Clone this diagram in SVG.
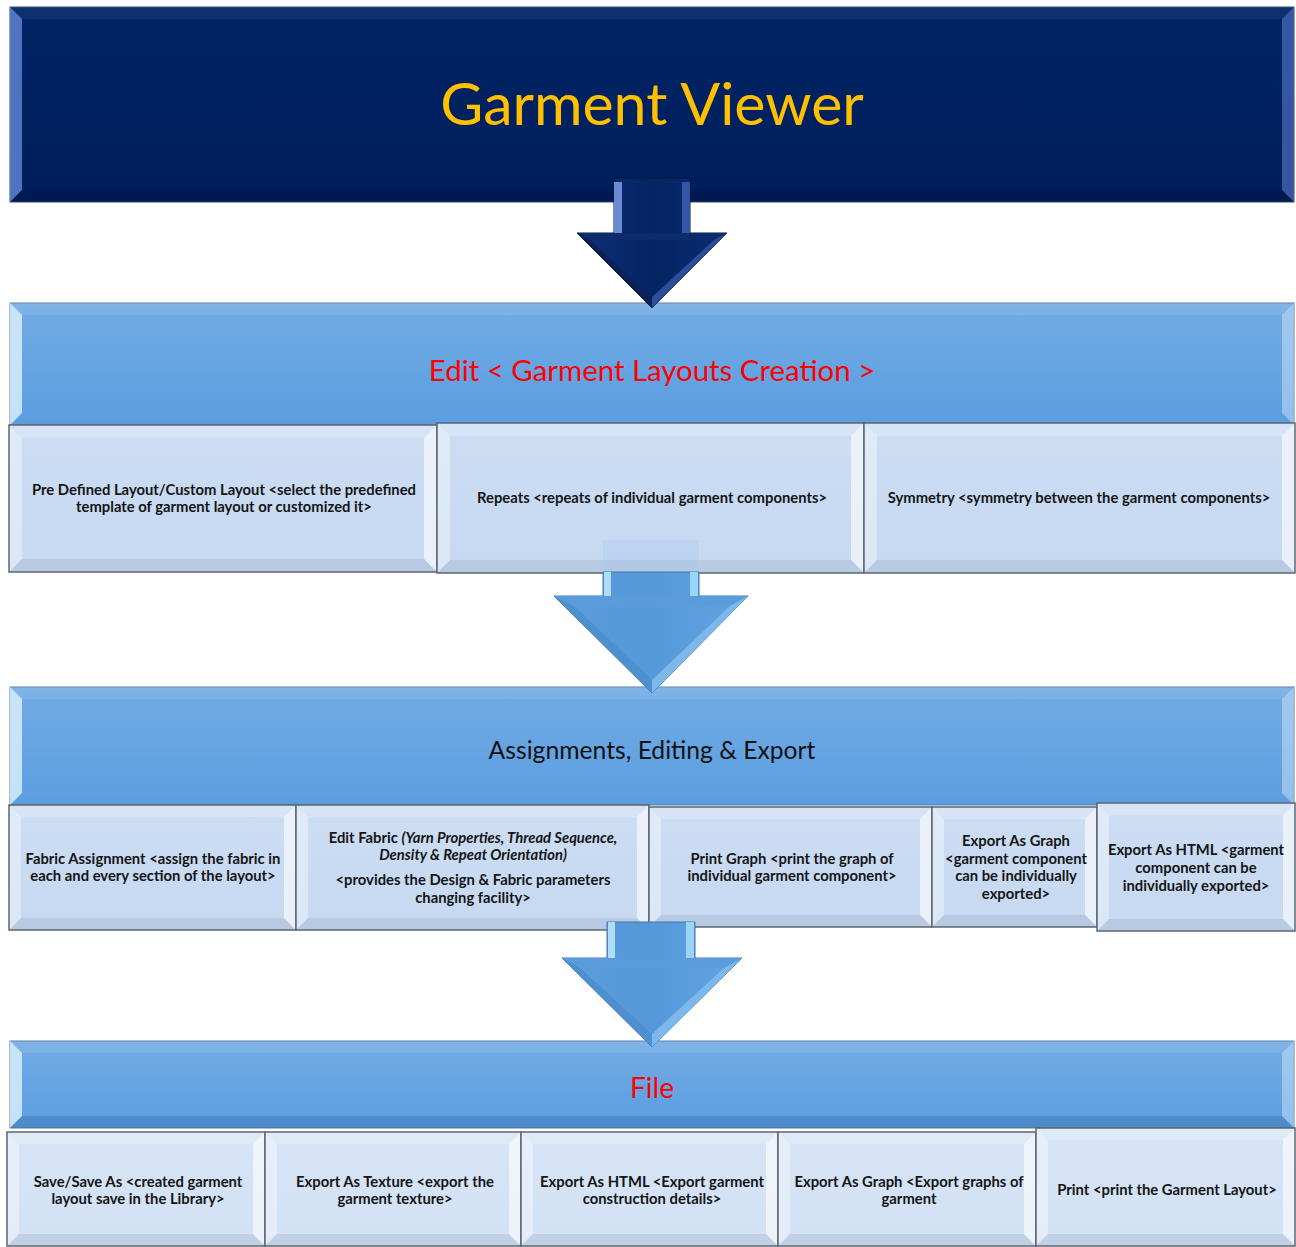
<svg xmlns="http://www.w3.org/2000/svg" width="1296" height="1247" viewBox="0 0 1296 1247">
<defs>
<linearGradient id="gHead" x1="0" y1="0" x2="0" y2="1"><stop offset="0" stop-color="#002466"/><stop offset="1" stop-color="#001E5A"/></linearGradient>
<linearGradient id="gBand" x1="0" y1="0" x2="0" y2="1"><stop offset="0" stop-color="#72ABE5"/><stop offset="1" stop-color="#5B9EE0"/></linearGradient>
<linearGradient id="gBox" x1="0" y1="0" x2="0" y2="1"><stop offset="0" stop-color="#CCDDF3"/><stop offset="1" stop-color="#C6D9F1"/></linearGradient>
<linearGradient id="gBox3" x1="0" y1="0" x2="0" y2="1"><stop offset="0" stop-color="#D6E4F5"/><stop offset="1" stop-color="#D2E1F4"/></linearGradient>
<linearGradient id="gArD" x1="0" y1="0" x2="1" y2="0"><stop offset="0" stop-color="#0E3078"/><stop offset="0.5" stop-color="#042463"/><stop offset="1" stop-color="#0A2C70"/></linearGradient>
<linearGradient id="gArL" x1="0" y1="0" x2="1" y2="0"><stop offset="0" stop-color="#5B9CDC"/><stop offset="0.5" stop-color="#5599DA"/><stop offset="1" stop-color="#63A4E0"/></linearGradient>
</defs>
<style>
.bd{stroke:#5E6670;stroke-width:1.5}
.hdr{fill:url(#gHead);stroke:#3A4A70;stroke-width:1}
.band{fill:url(#gBand);stroke:#5A7FA8;stroke-width:1}
.box{fill:url(#gBox)}
.box3{fill:url(#gBox3)}
.ht{fill:#fff;opacity:.06}
.hl{fill:#6B8FE0;opacity:.75}
.hr{fill:#5A7CCB;opacity:.6}
.hb{fill:#000;opacity:.12}
.nt{fill:#fff;opacity:.10}
.nl{fill:#E6F8FF;opacity:.75}
.nr{fill:#fff;opacity:.35}
.nb{fill:#1E4E86;opacity:.25}
.xt{fill:#fff;opacity:.22}
.xl{fill:#fff;opacity:.38}
.xr{fill:#fff;opacity:.6}
.xb{fill:#7F93AC;opacity:.2}
.t{font-family:Lato,"Open Sans","Liberation Sans",sans-serif;font-weight:bold;font-size:14.8px;fill:#151515;text-anchor:middle}
.it{font-style:italic}
.ttl{font-family:Lato,"Open Sans","Liberation Sans",sans-serif;text-anchor:middle}
</style>

<g id="header">
<rect class="hdr" x="10" y="7" width="1284" height="195"/>
<polygon class="ht" points="10,7 1294,7 1282,19 22,19"/>
<polygon class="hl" points="10,7 22,19 22,190 10,202"/>
<polygon class="hr" points="1294,7 1294,202 1282,190 1282,19"/>
<polygon class="hb" points="10,202 22,190 1282,190 1294,202"/>
<text class="ttl" x="652" y="125" font-size="59" fill="#FFC000">Garment Viewer</text>
</g>

<g id="band-edit">
<rect class="band" x="10" y="303" width="1284" height="122"/>
<polygon class="nt" points="10,303 1294,303 1282,315 22,315"/>
<polygon class="nl" points="10,303 22,315 22,413 10,425"/>
<polygon class="nr" points="1294,303 1294,425 1282,413 1282,315"/>
<text class="ttl" x="652" y="381" font-size="29.4" fill="#FF0000">Edit &lt; Garment Layouts Creation &gt;</text>
</g>

<g id="band-assign">
<rect class="band" x="10" y="687" width="1284" height="118"/>
<polygon class="nt" points="10,687 1294,687 1282,699 22,699"/>
<polygon class="nl" points="10,687 22,699 22,793 10,805"/>
<polygon class="nr" points="1294,687 1294,805 1282,793 1282,699"/>
<text class="ttl" x="652" y="759" font-size="24.7" fill="#111">Assignments, Editing &amp; Export</text>
</g>

<g id="band-file">
<rect class="band" x="10" y="1041" width="1284" height="87"/>
<polygon class="nt" points="10,1041 1294,1041 1282,1053 22,1053"/>
<polygon class="nl" points="10,1041 22,1053 22,1116 10,1128"/>
<polygon class="nr" points="1294,1041 1294,1128 1282,1116 1282,1053"/>
<polygon class="nb" points="10,1128 22,1116 1282,1116 1294,1128"/>
<text class="ttl" x="652" y="1098" font-size="28" fill="#FF0000">File</text>
</g>

<!-- Row 1 -->
<g id="r1b1">
<rect class="box" x="9" y="425" width="428" height="147"/>
<polygon class="xt" points="9,425 437,425 424,438 22,438"/>
<polygon class="xl" points="9,425 22,438 22,559 9,572"/>
<polygon class="xr" points="437,425 437,572 424,559 424,438"/>
<polygon class="xb" points="9,572 22,559 424,559 437,572"/>
<rect x="9" y="425" width="428" height="147" fill="none" class="bd"/>
<text class="t" x="224" y="495">Pre Defined Layout/Custom Layout &lt;select the predefined</text>
<text class="t" x="224" y="512">template of garment layout or customized it&gt;</text>
</g>
<g id="r1b2">
<rect class="box" x="437" y="423" width="427" height="150"/>
<polygon class="xt" points="437,423 864,423 851,436 450,436"/>
<polygon class="xl" points="437,423 450,436 450,560 437,573"/>
<polygon class="xr" points="864,423 864,573 851,560 851,436"/>
<polygon class="xb" points="437,573 450,560 851,560 864,573"/>
<rect x="437" y="423" width="427" height="150" fill="none" class="bd"/>
<text class="t" x="652" y="503">Repeats &lt;repeats of individual garment components&gt;</text>
</g>
<g id="r1b3">
<rect class="box" x="864" y="423" width="431" height="150"/>
<polygon class="xt" points="864,423 1295,423 1282,436 877,436"/>
<polygon class="xl" points="864,423 877,436 877,560 864,573"/>
<polygon class="xr" points="1295,423 1295,573 1282,560 1282,436"/>
<polygon class="xb" points="864,573 877,560 1282,560 1295,573"/>
<rect x="864" y="423" width="431" height="150" fill="none" class="bd"/>
<text class="t" x="1079" y="503">Symmetry &lt;symmetry between the garment components&gt;</text>
</g>

<!-- Row 2 -->
<g id="r2b1">
<rect class="box" x="9" y="805" width="287" height="125"/>
<polygon class="xt" points="9,805 296,805 284,817 21,817"/>
<polygon class="xl" points="9,805 21,817 21,918 9,930"/>
<polygon class="xr" points="296,805 296,930 284,918 284,817"/>
<polygon class="xb" points="9,930 21,918 284,918 296,930"/>
<rect x="9" y="805" width="287" height="125" fill="none" class="bd"/>
<text class="t" x="153" y="864">Fabric Assignment &lt;assign the fabric in</text>
<text class="t" x="153" y="881">each and every section of the layout&gt;</text>
</g>
<g id="r2b2">
<rect class="box" x="296" y="805" width="353" height="125"/>
<polygon class="xt" points="296,805 649,805 637,817 308,817"/>
<polygon class="xl" points="296,805 308,817 308,918 296,930"/>
<polygon class="xr" points="649,805 649,930 637,918 637,817"/>
<polygon class="xb" points="296,930 308,918 637,918 649,930"/>
<rect x="296" y="805" width="353" height="125" fill="none" class="bd"/>
<text class="t" x="473" y="843">Edit Fabric <tspan class="it">(Yarn Properties, Thread Sequence,</tspan></text>
<text class="t it" x="473" y="860">Density &amp; Repeat Orientation)</text>
<text class="t" x="473" y="885">&lt;provides the Design &amp; Fabric parameters</text>
<text class="t" x="473" y="903">changing facility&gt;</text>
</g>
<g id="r2b3">
<rect class="box" x="649" y="807" width="283" height="120"/>
<polygon class="xt" points="649,807 932,807 920,819 661,819"/>
<polygon class="xl" points="649,807 661,819 661,915 649,927"/>
<polygon class="xr" points="932,807 932,927 920,915 920,819"/>
<polygon class="xb" points="649,927 661,915 920,915 932,927"/>
<rect x="649" y="807" width="283" height="120" fill="none" class="bd"/>
<text class="t" x="792" y="864">Print Graph &lt;print the graph of</text>
<text class="t" x="792" y="881">individual garment component&gt;</text>
</g>
<g id="r2b4">
<rect class="box" x="932" y="807" width="165" height="120"/>
<polygon class="xt" points="932,807 1097,807 1085,819 944,819"/>
<polygon class="xl" points="932,807 944,819 944,915 932,927"/>
<polygon class="xr" points="1097,807 1097,927 1085,915 1085,819"/>
<polygon class="xb" points="932,927 944,915 1085,915 1097,927"/>
<rect x="932" y="807" width="165" height="120" fill="none" class="bd"/>
<text class="t" x="1016" y="846">Export As Graph</text>
<text class="t" x="1016" y="864">&lt;garment component</text>
<text class="t" x="1016" y="881">can be individually</text>
<text class="t" x="1016" y="899">exported&gt;</text>
</g>
<g id="r2b5">
<rect class="box" x="1097" y="803" width="198" height="128"/>
<polygon class="xt" points="1097,803 1295,803 1283,815 1109,815"/>
<polygon class="xl" points="1097,803 1109,815 1109,919 1097,931"/>
<polygon class="xr" points="1295,803 1295,931 1283,919 1283,815"/>
<polygon class="xb" points="1097,931 1109,919 1283,919 1295,931"/>
<rect x="1097" y="803" width="198" height="128" fill="none" class="bd"/>
<text class="t" x="1196" y="855">Export As HTML &lt;garment</text>
<text class="t" x="1196" y="873">component can be</text>
<text class="t" x="1196" y="891">individually exported&gt;</text>
</g>

<!-- Row 3 -->
<g id="r3b1">
<rect class="box3" x="7" y="1132" width="258" height="114"/>
<polygon class="xt" points="7,1132 265,1132 253,1144 19,1144"/>
<polygon class="xl" points="7,1132 19,1144 19,1234 7,1246"/>
<polygon class="xr" points="265,1132 265,1246 253,1234 253,1144"/>
<polygon class="xb" points="7,1246 19,1234 253,1234 265,1246"/>
<rect x="7" y="1132" width="258" height="114" fill="none" class="bd"/>
<text class="t" x="138" y="1187">Save/Save As &lt;created garment</text>
<text class="t" x="138" y="1204">layout save in the Library&gt;</text>
</g>
<g id="r3b2">
<rect class="box3" x="265" y="1132" width="256" height="114"/>
<polygon class="xt" points="265,1132 521,1132 509,1144 277,1144"/>
<polygon class="xl" points="265,1132 277,1144 277,1234 265,1246"/>
<polygon class="xr" points="521,1132 521,1246 509,1234 509,1144"/>
<polygon class="xb" points="265,1246 277,1234 509,1234 521,1246"/>
<rect x="265" y="1132" width="256" height="114" fill="none" class="bd"/>
<text class="t" x="395" y="1187">Export As Texture &lt;export the</text>
<text class="t" x="395" y="1204">garment texture&gt;</text>
</g>
<g id="r3b3">
<rect class="box3" x="521" y="1132" width="257" height="114"/>
<polygon class="xt" points="521,1132 778,1132 766,1144 533,1144"/>
<polygon class="xl" points="521,1132 533,1144 533,1234 521,1246"/>
<polygon class="xr" points="778,1132 778,1246 766,1234 766,1144"/>
<polygon class="xb" points="521,1246 533,1234 766,1234 778,1246"/>
<rect x="521" y="1132" width="257" height="114" fill="none" class="bd"/>
<text class="t" x="652" y="1187">Export As HTML &lt;Export garment</text>
<text class="t" x="652" y="1204">construction details&gt;</text>
</g>
<g id="r3b4">
<rect class="box3" x="778" y="1132" width="258" height="114"/>
<polygon class="xt" points="778,1132 1036,1132 1024,1144 790,1144"/>
<polygon class="xl" points="778,1132 790,1144 790,1234 778,1246"/>
<polygon class="xr" points="1036,1132 1036,1246 1024,1234 1024,1144"/>
<polygon class="xb" points="778,1246 790,1234 1024,1234 1036,1246"/>
<rect x="778" y="1132" width="258" height="114" fill="none" class="bd"/>
<text class="t" x="909" y="1187">Export As Graph &lt;Export graphs of</text>
<text class="t" x="909" y="1204">garment</text>
</g>
<g id="r3b5">
<rect class="box3" x="1036" y="1128" width="259" height="118"/>
<polygon class="xt" points="1036,1128 1295,1128 1283,1140 1048,1140"/>
<polygon class="xl" points="1036,1128 1048,1140 1048,1234 1036,1246"/>
<polygon class="xr" points="1295,1128 1295,1246 1283,1234 1283,1140"/>
<polygon class="xb" points="1036,1246 1048,1234 1283,1234 1295,1246"/>
<rect x="1036" y="1128" width="259" height="118" fill="none" class="bd"/>
<text class="t" x="1167" y="1195">Print &lt;print the Garment Layout&gt;</text>
</g>

<g id="connectors">
<!-- Arrow 1 -->
<polygon points="614,178 690,178 690,233 727,233 652,308 577,233 614,233" fill="url(#gArD)" stroke="#001640" stroke-width="1"/>
<polygon points="577,233 727,233 714,240 590,240" fill="#0B2B6C"/>
<polygon points="577,233 590,240 652,297 652,308" fill="#0A2258"/>
<polygon points="727,233 714,240 652,297 652,308" fill="#2A4E9A"/>
<rect x="614" y="182" width="8" height="51" fill="#7C9EE8" opacity="0.85"/>
<rect x="682" y="182" width="8" height="51" fill="#3E62B5" opacity="0.8"/>
<!-- Arrow 2 -->
<rect x="603" y="540" width="96" height="32" fill="#A9C8EA" opacity="0.35"/>
<polygon points="603,572 699,572 699,596 748,596 652,693 554,596 603,596" fill="url(#gArL)" stroke="#3F77B0" stroke-width="1"/>
<polygon points="554,596 748,596 730,606 574,606" fill="#5A9BDB"/>
<polygon points="554,596 574,606 652,680 652,693" fill="#4F8FD0"/>
<polygon points="748,596 730,606 652,680 652,693" fill="#7DB8EC"/>
<rect x="604" y="572" width="7" height="24" fill="#BFEAFF" opacity="0.85"/>
<rect x="690" y="572" width="8" height="24" fill="#A8DDFB" opacity="0.85"/>
<!-- Arrow 3 -->
<polygon points="607,922 695,922 695,958 742,958 652,1047 562,958 607,958" fill="url(#gArL)" stroke="#3F77B0" stroke-width="1"/>
<polygon points="562,958 742,958 724,968 580,968" fill="#5A9BDB"/>
<polygon points="562,958 580,968 652,1034 652,1047" fill="#4F8FD0"/>
<polygon points="742,958 724,968 652,1034 652,1047" fill="#7DB8EC"/>
<rect x="608" y="922" width="7" height="36" fill="#BFEAFF" opacity="0.85"/>
<rect x="686" y="922" width="8" height="36" fill="#A8DDFB" opacity="0.85"/>
</g>
</svg>
